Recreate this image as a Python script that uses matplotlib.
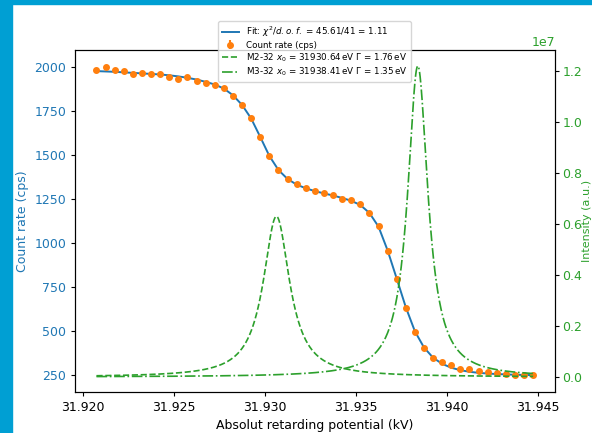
import numpy as np
import matplotlib.pyplot as plt
from matplotlib.patches import Rectangle

# Retarding potential steps (kV), 0.5 V apart
voltage = np.round(31.92075 + 0.0005 * np.arange(49), 5)

# Measured count rate (cps)
count_rate = [1983, 2002, 1983, 1979, 1962, 1968, 1960, 1960, 1947, 1935,
              1943, 1922, 1909, 1898, 1884, 1836, 1786, 1713, 1603, 1495,
              1416, 1367, 1337, 1312, 1297, 1286, 1274, 1252, 1246, 1221,
              1170, 1100, 957, 798, 634, 495, 405, 350, 328, 307,
              284, 284, 274, 267, 263, 256, 254, 250, 250]
count_err = 5

# Fitted model evaluated at the same potentials
fit_rate = [1979, 1977, 1975, 1972, 1969, 1966, 1963, 1960, 1955, 1949,
            1941, 1931, 1918, 1903, 1880, 1842, 1787, 1710, 1605, 1497,
            1417, 1366, 1334, 1313, 1297, 1284, 1272, 1258, 1242, 1218,
            1173, 1095, 960, 800, 637, 500, 408, 350, 315, 293,
            279, 270, 264, 260, 257, 255, 253, 252, 251]
chi2, dof = 45.61, 41

# Lorentzian line parameters: name, centre (eV), FWHM (eV), peak height (a.u.)
lines = [("M2-32", 31930.64, 1.76, 0.630e7, "--"),
         ("M3-32", 31938.41, 1.35, 1.220e7, "-.")]

plt.rcParams.update({
    "font.size": 9,
    "xtick.major.size": 3.2, "ytick.major.size": 3.2,
    "xtick.major.pad": 3.2, "ytick.major.pad": 3.2,
    "axes.labelpad": 3.5,
})

fig = plt.figure(figsize=(5.92, 4.33), dpi=100)
fig.patches.append(Rectangle((0, 0), 12 / 592, 1, transform=fig.transFigure,
                             color="#009fd3", zorder=-1))
fig.patches.append(Rectangle((0, 1 - 4 / 433), 1, 4 / 433, transform=fig.transFigure,
                             color="#009fd3", zorder=-1))

ax = fig.add_axes([75 / 592, 1 - 392 / 433, 480 / 592, 342 / 433])
ax2 = ax.twinx()

h_fit, = ax.plot(voltage, fit_rate, color="tab:blue", lw=1.4,
                 label=r"Fit: $\chi^2/d.o.f.$ = %.2f/%d = %.2f" % (chi2, dof, chi2 / dof))
h_dat = ax.errorbar(voltage, count_rate, yerr=count_err, fmt="o", ms=4,
                    color="tab:orange", label="Count rate (cps)")

xx = np.linspace(voltage[0], voltage[-1], 1500)
handles = [h_fit, h_dat]
for name, x0, gam, amp, ls in lines:
    d = (xx * 1000 - x0) / (gam / 2)
    h, = ax2.plot(xx, amp / (1 + d ** 2), ls, color="tab:green", lw=1.2,
                  label=r"%s $x_0$ = %.2f$\,$eV $\Gamma$ = %.2f$\,$eV" % (name, x0, gam))
    handles.append(h)

ax.set_xlim(31.91957, 31.94595)
ax.set_ylim(155, 2099)
ax2.set_ylim(-0.0588e7, 1.2824e7)
ax.set_xticks([31.920, 31.925, 31.930, 31.935, 31.940, 31.945])
ax.set_xticklabels(["31.920", "31.925", "31.930", "31.935", "31.940", "31.945"])

ax.set_xlabel("Absolut retarding potential (kV)")
ax.set_ylabel("Count rate (cps)", color="tab:blue")
ax2.set_ylabel("Intensity (a.u.)", color="tab:green", fontsize=8)
ax2.yaxis.set_label_coords((582 - 75) / 480, 0.5)
ax.tick_params(axis="y", labelcolor="tab:blue")
ax2.tick_params(axis="y", labelcolor="tab:green", pad=2.2)
ax2.yaxis.get_offset_text().set_color("tab:green")

fig.legend(handles=handles, loc="upper left", bbox_to_anchor=(218 / 592, 1 - 21 / 433),
           fontsize=6.3, labelspacing=0.2, borderaxespad=0, framealpha=0.8)

fig.savefig("out.png", dpi=100)
